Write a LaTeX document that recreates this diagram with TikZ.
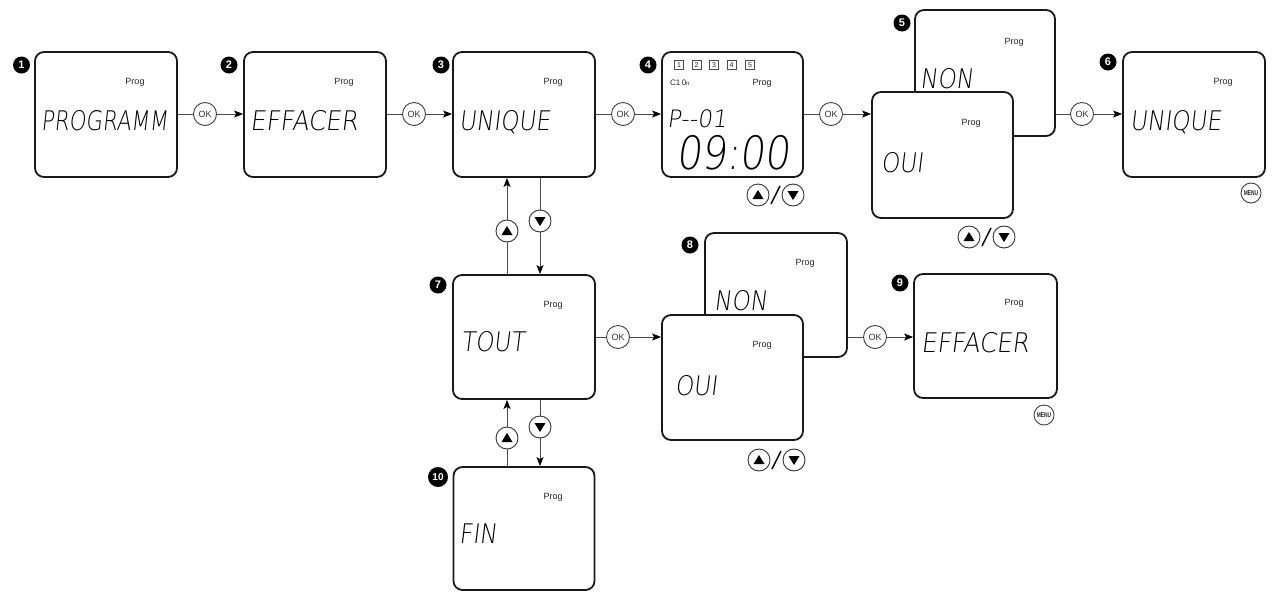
\documentclass[tikz,border=0pt]{standalone}
\usepackage{fontspec}
\setsansfont{Liberation Sans}
\newfontfamily\lcd[FakeSlant=0.12, FakeStretch=0.86]{DejaVu Sans ExtraLight}
\usetikzlibrary{arrows.meta,calc}
\tikzset{
  lcdbox/.style={draw=black!90, line width=1.8pt, rounded corners=9pt, minimum width=142pt, minimum height=125pt, inner sep=0pt, fill=white},
  lcdtxt/.style={anchor=west, inner sep=0pt, text height=20pt, text depth=0pt, text=black, font=\lcd\fontsize{27}{27}\selectfont},
  progtxt/.style={inner sep=0pt, text=black!85, font=\sffamily\fontsize{9}{9}\selectfont},
  badge/.style={circle, fill=black, text=white, inner sep=0pt, minimum size=17pt, font=\sffamily\bfseries\fontsize{11}{11}\selectfont},
  conn/.style={draw=black!70, line width=0.9pt},
  arr/.style={conn, -{Stealth[length=9pt,width=7pt,inset=2pt,color=black]}},
  okbtn/.style={circle, draw=black!75, line width=0.9pt, minimum size=23pt, inner sep=0pt, fill=white, text=black!80, font=\sffamily\fontsize{9}{9}\selectfont},
  menubtn/.style={circle, draw=black!75, line width=0.9pt, minimum size=20pt, inner sep=0pt, text=black!85, font=\sffamily\bfseries\fontsize{7}{7}\selectfont},
  btn/.style={circle, draw=black!80, line width=0.9pt, minimum size=22pt, inner sep=0pt, fill=white},
  upbtn/.style={btn, path picture={\fill[black] ([xshift=-5.5pt,yshift=-4pt]path picture bounding box.center) -- ([xshift=5.5pt,yshift=-4pt]path picture bounding box.center) -- ([yshift=5pt]path picture bounding box.center) -- cycle;}},
  dnbtn/.style={btn, path picture={\fill[black] ([xshift=-5.5pt,yshift=4pt]path picture bounding box.center) -- ([xshift=5.5pt,yshift=4pt]path picture bounding box.center) -- ([yshift=-5pt]path picture bounding box.center) -- cycle;}},
  slash/.style={draw=black, line width=1.5pt},
  numbox/.style={draw=black!70, line width=0.5pt, minimum size=9pt, inner sep=0pt, text=black!85, font=\sffamily\fontsize{7}{7}\selectfont}
}
\begin{document}
\begin{tikzpicture}[x=1pt, y=-1pt]
\useasboundingbox[fill=white] (0,0) rectangle (1273,592);

% ---- boxes (back ones first) ----
\node[lcdbox] (b1) at (106,114.5) {};
\node[lcdbox] (b2) at (315,114.5) {};
\node[lcdbox] (b3) at (524,114.5) {};
\node[lcdbox, minimum width=141pt] (b4) at (732.5,114.5) {};
\node[lcdbox, minimum width=140pt, minimum height=126pt] (b5b) at (985,73) {};
\node[lcdbox, minimum width=141pt, minimum height=126pt] (b5f) at (942.5,155) {};
\node[lcdbox] (b6) at (1194,114.5) {};
\node[lcdbox, minimum height=124pt] (b7) at (524,337) {};
\node[lcdbox, minimum height=124pt] (b8b) at (776,295) {};
\node[lcdbox, minimum width=141pt] (b8f) at (732.5,377.5) {};
\node[lcdbox, minimum width=143pt, minimum height=124pt] (b9) at (985.5,336) {};
\node[lcdbox, minimum width=141pt, minimum height=123pt] (b10) at (524,528.5) {};

% ---- badges ----
\node[badge] (n1) at (21.5,65) {1};
\node[badge] (n2) at (229,65) {2};
\node[badge] (n3) at (441,65) {3};
\node[badge] (n4) at (648,65) {4};
\node[badge] (n5) at (902,23) {5};
\node[badge] (n6) at (1108,62) {6};
\node[badge] (n7) at (438,285) {7};
\node[badge] (n8) at (690,245) {8};
\node[badge] (n9) at (900,283) {9};
\node[badge, minimum size=20pt, font=\sffamily\bfseries\fontsize{10}{10}\selectfont] (n10) at (438,477) {10};

% ---- Prog labels ----
\node[progtxt] (p1) at (135,82) {Prog};
\node[progtxt] (p2) at (344,82) {Prog};
\node[progtxt] (p3) at (553,82) {Prog};
\node[progtxt] (p4) at (762,83) {Prog};
\node[progtxt] (p5b) at (1014,42) {Prog};
\node[progtxt] (p5f) at (971,123) {Prog};
\node[progtxt] (p6) at (1223,82) {Prog};
\node[progtxt] (p7) at (553,305) {Prog};
\node[progtxt] (p8b) at (805,263) {Prog};
\node[progtxt] (p8f) at (762,345) {Prog};
\node[progtxt] (p9) at (1014,303) {Prog};
\node[progtxt] (p10) at (553,497) {Prog};

% ---- LCD texts ----
\node[lcdtxt, xscale=0.92] (t1) at (41,120) {PROGRAMM};
\node[lcdtxt, xscale=1.06] (t2) at (250,120) {EFFACER};
\node[lcdtxt] (t3) at (459,120) {UNIQUE};
\node[lcdtxt] (t5b) at (920,78) {NON};
\node[lcdtxt] (t5f) at (881,162) {OUI};
\node[lcdtxt] (t6) at (1130,120) {UNIQUE};
\node[lcdtxt] (t7) at (461,341) {TOUT};
\node[lcdtxt] (t8b) at (714,300) {NON};
\node[lcdtxt] (t8f) at (675,385) {OUI};
\node[lcdtxt, xscale=1.06] (t9) at (921,342) {EFFACER};
\node[lcdtxt] (t10) at (459,533) {FIN};

% ---- box 4 details ----
\node[numbox] (d1) at (679,65) {1};
\node[numbox] (d2) at (696.5,65) {2};
\node[numbox] (d3) at (714,65) {3};
\node[numbox] (d4) at (731.5,65) {4};
\node[numbox] (d5) at (750,65) {5};
\node[anchor=west, inner sep=0pt, text=black!85, font=\sffamily\fontsize{8}{8}\selectfont] (c10) at (670,83) {C1\,0{\fontsize{6}{6}\selectfont n}};
\node[lcdtxt, xscale=1.12, text height=17pt, font=\lcd\fontsize{24}{24}\selectfont] (pnum) at (667,118.5) {P-{}-01};
\node[inner sep=0pt, text height=34pt, text depth=0pt, text=black, font=\lcd\fontsize{46}{46}\selectfont] (time) at (733,152) {09:00};

% ---- OK buttons and horizontal connectors ----
\node[okbtn] (ok1) at (205,114) {OK};
\node[okbtn] (ok2) at (414,114) {OK};
\node[okbtn] (ok3) at (623,114) {OK};
\node[okbtn] (ok4) at (831,114) {OK};
\node[okbtn] (ok5) at (1082,114) {OK};
\node[okbtn] (ok6) at (618,337) {OK};
\node[okbtn] (ok7) at (875,337) {OK};

\draw[conn] (ok1 -| b1.east) -- (ok1);
\draw[arr] (ok1) -- (ok1 -| b2.west);
\draw[conn] (ok2 -| b2.east) -- (ok2);
\draw[arr] (ok2) -- (ok2 -| b3.west);
\draw[conn] (ok3 -| b3.east) -- (ok3);
\draw[arr] (ok3) -- (ok3 -| b4.west);
\draw[conn] (ok4 -| b4.east) -- (ok4);
\draw[arr] (ok4) -- (ok4 -| b5f.west);
\draw[conn] (ok5 -| b5b.east) -- (ok5);
\draw[arr] (ok5) -- (ok5 -| b6.west);
\draw[conn] (ok6 -| b7.east) -- (ok6);
\draw[arr] (ok6) -- (ok6 -| b8f.west);
\draw[conn] (ok7 -| b8b.east) -- (ok7);
\draw[arr] (ok7) -- (ok7 -| b9.west);

% ---- vertical up/down connectors ----
\node[upbtn] (u1) at (507,231) {};
\node[dnbtn] (v1) at (540,221) {};
\node[upbtn] (u2) at (507,438) {};
\node[dnbtn] (v2) at (540,427) {};

\draw[conn] (u1 |- b7.north) -- (u1);
\draw[arr] (u1) -- (u1 |- b3.south);
\draw[conn] (v1 |- b3.south) -- (v1);
\draw[arr] (v1) -- (v1 |- b7.north);
\draw[conn] (u2 |- b10.north) -- (u2);
\draw[arr] (u2) -- (u2 |- b7.south);
\draw[conn] (v2 |- b7.south) -- (v2);
\draw[arr] (v2) -- (v2 |- b10.north);

% ---- standalone up/down pairs ----
\node[upbtn] (pu4) at (758,195) {};
\node[dnbtn] (pd4) at (793,195) {};
\draw[slash] ($(pu4)!0.5!(pd4)+(-4.5,9)$) coordinate (s4a) -- ($(pu4)!0.5!(pd4)+(4.5,-9)$) coordinate (s4b);
\node[upbtn] (pu5) at (969,237) {};
\node[dnbtn] (pd5) at (1004,237) {};
\draw[slash] ($(pu5)!0.5!(pd5)+(-4.5,9)$) coordinate (s5a) -- ($(pu5)!0.5!(pd5)+(4.5,-9)$) coordinate (s5b);
\node[upbtn] (pu8) at (759,460) {};
\node[dnbtn] (pd8) at (794,460) {};
\draw[slash] ($(pu8)!0.5!(pd8)+(-4.5,9)$) coordinate (s8a) -- ($(pu8)!0.5!(pd8)+(4.5,-9)$) coordinate (s8b);

% ---- MENU buttons ----
\node[menubtn] (m6) at (1251,193) {\scalebox{0.7}[1]{MENU}};
\node[menubtn] (m9) at (1044,415) {\scalebox{0.7}[1]{MENU}};
\end{tikzpicture}
\end{document}
